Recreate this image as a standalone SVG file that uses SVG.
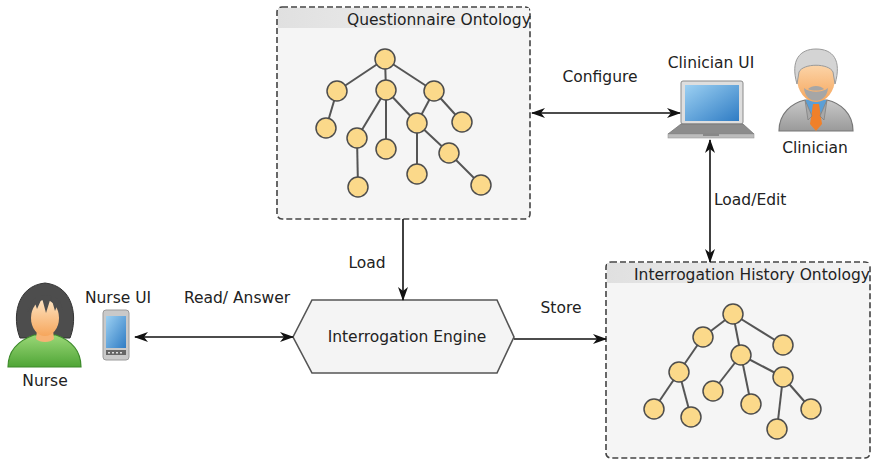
<svg xmlns="http://www.w3.org/2000/svg" width="876" height="461" viewBox="0 0 876 461">
  <defs>
    <style>
      .lbl { font-family: "DejaVu Sans", "Liberation Sans", sans-serif; font-size: 15.5px; fill: #222; }
      .box { fill: #f5f5f5; stroke: #444; stroke-width: 1.6; stroke-dasharray: 6 3; }
      .edge { stroke: #555; stroke-width: 2; fill: none; }
      .tn { fill: #fbd98a; stroke: #4d4d4d; stroke-width: 1.5; }
      .conn { stroke: #111; stroke-width: 1.6; fill: none; }
    </style>
    <marker id="arr" viewBox="0 0 14 10" refX="13" refY="5" markerWidth="14" markerHeight="10" markerUnits="userSpaceOnUse" orient="auto-start-reverse">
      <path d="M0,0 L14,5 L0,10 L4,5 Z" fill="#111"/>
    </marker>
    <linearGradient id="hdr" x1="0" y1="0" x2="1" y2="0">
      <stop offset="0" stop-color="#e0e0e0"/>
      <stop offset="1" stop-color="#f4f4f4"/>
    </linearGradient>
    <linearGradient id="skin" x1="0" y1="0" x2="0" y2="1">
      <stop offset="0" stop-color="#fde2bf"/>
      <stop offset="1" stop-color="#f6a65c"/>
    </linearGradient>
    <linearGradient id="green" x1="0" y1="0" x2="0" y2="1">
      <stop offset="0" stop-color="#9ad777"/>
      <stop offset="1" stop-color="#4fa536"/>
    </linearGradient>
    <linearGradient id="scr" x1="0" y1="0" x2="1" y2="1">
      <stop offset="0" stop-color="#9cd0f2"/>
      <stop offset="1" stop-color="#2f7cc4"/>
    </linearGradient>
    <linearGradient id="suit" x1="0" y1="0" x2="0" y2="1">
      <stop offset="0" stop-color="#c8c8c8"/>
      <stop offset="1" stop-color="#9a9a9a"/>
    </linearGradient>
  </defs>

  <rect width="876" height="461" fill="#ffffff"/>

  <!-- Questionnaire Ontology -->
  <g id="questionnaire-ontology">
    <rect class="box" x="277" y="7" width="253" height="212" rx="5"/>
    <rect x="278" y="8" width="251" height="20" fill="url(#hdr)"/>
    <text class="lbl" x="347" y="25">Questionnaire Ontology</text>
    <g>
      <line class="edge" x1="385" y1="59" x2="337" y2="91"/>
      <line class="edge" x1="385" y1="59" x2="386" y2="90"/>
      <line class="edge" x1="385" y1="59" x2="434" y2="91"/>
      <line class="edge" x1="337" y1="91" x2="326" y2="128"/>
      <line class="edge" x1="386" y1="90" x2="357" y2="138"/>
      <line class="edge" x1="386" y1="90" x2="386" y2="149"/>
      <line class="edge" x1="386" y1="90" x2="417" y2="123"/>
      <line class="edge" x1="434" y1="91" x2="417" y2="123"/>
      <line class="edge" x1="434" y1="91" x2="462" y2="122"/>
      <line class="edge" x1="357" y1="138" x2="358" y2="187"/>
      <line class="edge" x1="417" y1="123" x2="417" y2="174"/>
      <line class="edge" x1="417" y1="123" x2="449" y2="153"/>
      <line class="edge" x1="449" y1="153" x2="481" y2="185"/>
    </g>
    <g>
      <circle class="tn" cx="385" cy="59" r="10"/>
      <circle class="tn" cx="337" cy="91" r="10"/>
      <circle class="tn" cx="386" cy="90" r="10"/>
      <circle class="tn" cx="434" cy="91" r="10"/>
      <circle class="tn" cx="326" cy="128" r="10"/>
      <circle class="tn" cx="357" cy="138" r="10"/>
      <circle class="tn" cx="386" cy="149" r="10"/>
      <circle class="tn" cx="417" cy="123" r="10"/>
      <circle class="tn" cx="462" cy="122" r="10"/>
      <circle class="tn" cx="358" cy="187" r="10"/>
      <circle class="tn" cx="417" cy="174" r="10"/>
      <circle class="tn" cx="449" cy="153" r="10"/>
      <circle class="tn" cx="481" cy="185" r="10"/>
    </g>
  </g>

  <!-- Interrogation History Ontology -->
  <g id="history-ontology">
    <rect class="box" x="606" y="262" width="264" height="196" rx="5"/>
    <rect x="607" y="263" width="262" height="20" fill="url(#hdr)"/>
    <text class="lbl" x="634" y="280">Interrogation History Ontology</text>
    <g>
      <line class="edge" x1="733" y1="314" x2="703" y2="337"/>
      <line class="edge" x1="733" y1="314" x2="741" y2="355"/>
      <line class="edge" x1="733" y1="314" x2="783" y2="345"/>
      <line class="edge" x1="703" y1="337" x2="679" y2="372"/>
      <line class="edge" x1="679" y1="372" x2="654" y2="409"/>
      <line class="edge" x1="679" y1="372" x2="691" y2="417"/>
      <line class="edge" x1="741" y1="355" x2="713" y2="391"/>
      <line class="edge" x1="741" y1="355" x2="751" y2="404"/>
      <line class="edge" x1="741" y1="355" x2="783" y2="377"/>
      <line class="edge" x1="783" y1="377" x2="777" y2="429"/>
      <line class="edge" x1="783" y1="377" x2="811" y2="409"/>
    </g>
    <g>
      <circle class="tn" cx="733" cy="314" r="10"/>
      <circle class="tn" cx="703" cy="337" r="10"/>
      <circle class="tn" cx="783" cy="345" r="10"/>
      <circle class="tn" cx="741" cy="355" r="10"/>
      <circle class="tn" cx="679" cy="372" r="10"/>
      <circle class="tn" cx="783" cy="377" r="10"/>
      <circle class="tn" cx="713" cy="391" r="10"/>
      <circle class="tn" cx="654" cy="409" r="10"/>
      <circle class="tn" cx="691" cy="417" r="10"/>
      <circle class="tn" cx="751" cy="404" r="10"/>
      <circle class="tn" cx="811" cy="409" r="10"/>
      <circle class="tn" cx="777" cy="429" r="10"/>
    </g>
  </g>

  <!-- Interrogation Engine -->
  <g id="interrogation-engine">
    <polygon points="293,337 312,300 497,300 514,337 497,373 312,373" fill="#f4f4f4" stroke="#555" stroke-width="1.6"/>
    <text class="lbl" x="407" y="342" text-anchor="middle">Interrogation Engine</text>
  </g>

  <!-- Nurse -->
  <g id="nurse">
    <path d="M20,338 C12,318 16,286 45,283 C74,286 78,318 70,338 Z" fill="#4d4d4d" stroke="#333" stroke-width="1"/>
    <path d="M8,367 C8,350 20,340 34,335 L56,335 C70,340 81,350 81,367 Z" fill="url(#green)" stroke="#3d8a2a" stroke-width="1.2"/>
    <path d="M37,330 L53,330 L54,339 C50,343 40,343 36,339 Z" fill="#f7b374"/>
    <ellipse cx="45" cy="318" rx="14" ry="18" fill="url(#skin)"/>
    <path d="M28,312 C26,292 62,288 63,310 L59,301 L55,311 L51,297 L46,313 L42,298 L37,309 L34,300 Z" fill="#4d4d4d"/>
    <text class="lbl" x="45" y="386" text-anchor="middle">Nurse</text>
  </g>

  <!-- Nurse UI (phone) -->
  <g id="nurse-ui">
    <text class="lbl" x="118" y="303" text-anchor="middle">Nurse UI</text>
    <rect x="103" y="310" width="26" height="50" rx="3" fill="#c9c9c9" stroke="#9a9a9a" stroke-width="1"/>
    <rect x="106" y="316" width="20" height="32" fill="url(#scr)"/>
    <rect x="106" y="350" width="20" height="5" fill="#666"/>
    <g fill="#ddd">
      <rect x="108" y="352" width="2" height="1.5"/>
      <rect x="112" y="352" width="2" height="1.5"/>
      <rect x="116" y="352" width="2" height="1.5"/>
      <rect x="120" y="352" width="2" height="1.5"/>
    </g>
  </g>

  <!-- Clinician UI (laptop) -->
  <g id="clinician-ui">
    <text class="lbl" x="711" y="68" text-anchor="middle">Clinician UI</text>
    <rect x="681" y="81" width="62" height="43" rx="2" fill="#dedede" stroke="#8a8a8a" stroke-width="1"/>
    <rect x="685" y="85" width="54" height="36" fill="url(#scr)"/>
    <polygon points="681,124 743,124 754,134 668,134" fill="#8c8c8c" stroke="#777" stroke-width="0.8"/>
    <rect x="668" y="134" width="86" height="4" fill="#bcbcbc" stroke="#999" stroke-width="0.6"/>
    <rect x="703" y="134" width="16" height="2" fill="#888"/>
  </g>

  <!-- Clinician -->
  <g id="clinician">
    <path d="M779,131 C779,113 792,103 805,100 L827,100 C840,103 853,113 853,131 Z" fill="url(#suit)" stroke="#777" stroke-width="1.2"/>
    <polygon points="805,100 827,100 816,126" fill="#5b9fd6"/>
    <polygon points="813,104 819,104 822,124 816,131 810,124" fill="#f0802a"/>
    <path d="M805,100 L812,116 L808,120 Z M827,100 L820,116 L824,120 Z" fill="#a8a8a8" stroke="#808080" stroke-width="0.8"/>
    <ellipse cx="816" cy="78" rx="19" ry="24" fill="url(#skin)"/>
    <path d="M797,84 C790,60 800,49 816,49 C833,49 842,60 835,84 L833,72 C829,63 803,63 799,72 Z" fill="#d4d4d4" stroke="#9a9a9a" stroke-width="1"/>
    <path d="M804,88 C805,105 827,105 828,88 C822,93 810,93 804,88 Z" fill="#a6a6a6"/>
    <path d="M808,89 C812,85 820,85 824,89 C820,91 812,91 808,89 Z" fill="#a6a6a6"/>
    <text class="lbl" x="815" y="153" text-anchor="middle">Clinician</text>
  </g>

  <!-- Connectors -->
  <g id="connectors">
    <line class="conn" x1="532" y1="113" x2="680" y2="113" marker-start="url(#arr)" marker-end="url(#arr)"/>
    <text class="lbl" x="600" y="82" text-anchor="middle">Configure</text>

    <line class="conn" x1="403" y1="219" x2="403" y2="300" marker-end="url(#arr)"/>
    <text class="lbl" x="367" y="268" text-anchor="middle">Load</text>

    <line class="conn" x1="135" y1="337" x2="293" y2="337" marker-start="url(#arr)" marker-end="url(#arr)"/>
    <text class="lbl" x="237" y="303" text-anchor="middle">Read/ Answer</text>

    <line class="conn" x1="514" y1="339" x2="606" y2="339" marker-end="url(#arr)"/>
    <text class="lbl" x="561" y="313" text-anchor="middle">Store</text>

    <line class="conn" x1="710" y1="140" x2="710" y2="262" marker-start="url(#arr)" marker-end="url(#arr)"/>
    <text class="lbl" x="714" y="205">Load/Edit</text>
  </g>
</svg>
